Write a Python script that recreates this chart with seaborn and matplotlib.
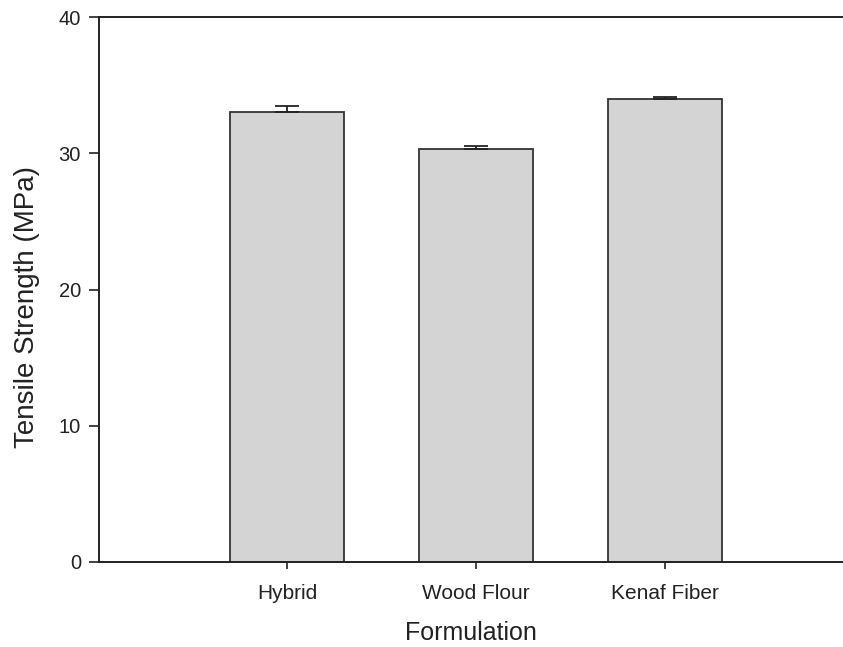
import matplotlib
matplotlib.use("Agg")
import matplotlib.pyplot as plt
import seaborn as sns
import pandas as pd
import numpy as np

# Tensile strength by formulation (mean and standard deviation, MPa)
formulations = ["Hybrid", "Wood Flour", "Kenaf Fiber"]
tensile_strength = [33.0, 30.3, 34.0]
std_dev = [0.5, 0.25, 0.1]
y_ticks = [0, 10, 20, 30, 40]

df = pd.DataFrame({"Formulation": formulations, "Tensile Strength": tensile_strength})

sns.set_theme(style="ticks")
plt.rcParams["font.family"] = ["Liberation Sans", "DejaVu Sans"]

fig = plt.figure(figsize=(8.43, 6.47), dpi=100)
ax = fig.add_axes([0.1174, 0.1314, 0.8826, 0.8423])

sns.barplot(data=df, x="Formulation", y="Tensile Strength", ax=ax,
            color="#d4d4d4", width=0.6, edgecolor="#333333", linewidth=1.3,
            errorbar=None, saturation=1)

# one-sided (upper) error bars
xpos = np.arange(len(formulations))
ax.errorbar(xpos, tensile_strength, yerr=[np.zeros(len(std_dev)), std_dev],
            fmt="none", ecolor="#222222", elinewidth=1.3, capsize=8.5, capthick=1.3)

ax.set_xlim(-0.995, 2.942)
ax.set_ylim(0, 40)
ax.set_yticks(y_ticks)
ax.set_yticklabels([str(t) for t in y_ticks])

ax.set_xlabel("Formulation", fontsize=18, color="#222222", labelpad=13)
ax.set_ylabel("Tensile Strength (MPa)", fontsize=20, color="#222222")
ax.yaxis.set_label_coords(-0.079, 0.468)

ax.tick_params(axis="y", direction="out", length=7, width=1.2, labelsize=14.5,
               colors="#222222", pad=6)
ax.tick_params(axis="x", direction="out", length=5, width=1.2, labelsize=15,
               colors="#222222", pad=11)

for side in ["left", "bottom", "top"]:
    ax.spines[side].set_linewidth(1.4)
    ax.spines[side].set_color("#222222")
ax.spines["right"].set_visible(False)

fig.savefig("out.png", dpi=100)
